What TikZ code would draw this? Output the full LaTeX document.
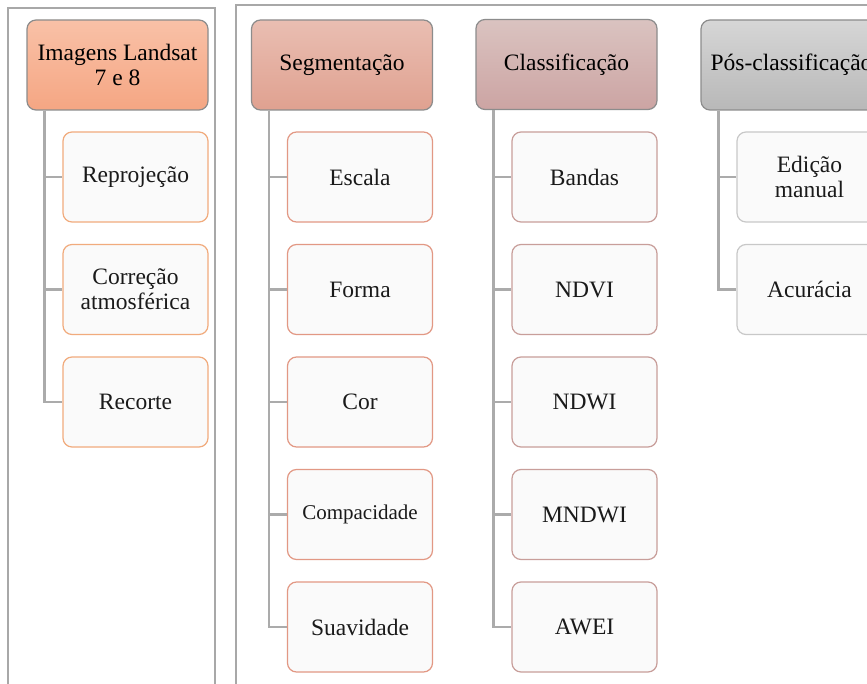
\documentclass[tikz,border=0pt]{standalone}
\usepackage{fontspec}
\setmainfont{Liberation Serif}
\usetikzlibrary{calc}
\definecolor{panel}{HTML}{A8A8A8}
\definecolor{conn}{HTML}{ABABAB}
\definecolor{rootline}{HTML}{8C8C8C}
\definecolor{txt}{HTML}{1A1A1A}
\begin{document}
\begin{tikzpicture}[x=1pt,y=-1pt,
  rootbox/.style={draw=rootline, line width=1.2pt, rounded corners=9pt,
    minimum width=181pt, minimum height=90pt, align=center, inner sep=2pt,
    font=\fontsize{23.5}{25}\selectfont, text=black},
  childbox/.style={line width=1.2pt, rounded corners=9pt, fill=white!98!black,
    minimum width=145pt, minimum height=90pt, align=center, inner sep=2pt,
    font=\fontsize{23.5}{25}\selectfont, text=txt},
  cA/.style={childbox, draw={rgb,255:red,241;green,171;blue,125}},
  cB/.style={childbox, draw={rgb,255:red,226;green,152;blue,132}},
  cC/.style={childbox, draw={rgb,255:red,200;green,158;blue,154}},
  cD/.style={childbox, draw={rgb,255:red,200;green,200;blue,200}},
  connline/.style={draw=conn, line width=2.6pt},
  panelline/.style={draw=panel, line width=2.6pt}]
\useasboundingbox (0,0) rectangle (867,684);
\clip (0,0) rectangle (867,684);
\fill[white] (0,0) rectangle (867,684);
% panels
\draw[panelline] (8,8) rectangle (215,720);
\draw[panelline] (236,5) rectangle (920,720);
% column 1
\node[rootbox, top color={rgb,255:red,249;green,193;blue,167}, bottom color={rgb,255:red,245;green,166;blue,131}] (r1) at (117.5,65) {Imagens Landsat\\7 e 8};
\node[cA] (a1) at (135.5,177) {Reprojeção};
\node[cA] (a2) at (135.5,289.5) {Correção\\atmosférica};
\node[cA] (a3) at (135.5,402) {Recorte};
% column 2
\node[rootbox, top color={rgb,255:red,233;green,190;blue,178}, bottom color={rgb,255:red,224;green,161;blue,144}] (r2) at (342,65) {Segmentação};
\node[cB] (b1) at (360,177) {Escala};
\node[cB] (b2) at (360,289.5) {Forma};
\node[cB] (b3) at (360,402) {Cor};
\node[cB, font=\fontsize{21}{24}\selectfont] (b4) at (360,514.5) {Compacidade};
\node[cB] (b5) at (360,627) {Suavidade};
% column 3
\node[rootbox, top color={rgb,255:red,218;green,195;blue,192}, bottom color={rgb,255:red,204;green,164;blue,163}] (r3) at (566.5,64.5) {Classificação};
\node[cC] (c1) at (584.5,177) {Bandas};
\node[cC] (c2) at (584.5,289.5) {NDVI};
\node[cC] (c3) at (584.5,402) {NDWI};
\node[cC] (c4) at (584.5,514.5) {MNDWI};
\node[cC] (c5) at (584.5,627) {AWEI};
% column 4
\node[rootbox, top color={rgb,255:red,214;green,214;blue,214}, bottom color={rgb,255:red,184;green,184;blue,184}] (r4) at (791.5,65) {Pós-classificação};
\node[cD] (d1) at (809.5,177) {Edição\\manual};
\node[cD] (d2) at (809.5,289.5) {Acurácia};
% connectors
\foreach \c in {a1,a2,a3} \draw[connline] ([xshift=18pt]r1.south west) |- (\c.west);
\foreach \c in {b1,b2,b3,b4,b5} \draw[connline] ([xshift=18pt]r2.south west) |- (\c.west);
\foreach \c in {c1,c2,c3,c4,c5} \draw[connline] ([xshift=18pt]r3.south west) |- (\c.west);
\foreach \c in {d1,d2} \draw[connline] ([xshift=18pt]r4.south west) |- (\c.west);
\end{tikzpicture}
\end{document}
